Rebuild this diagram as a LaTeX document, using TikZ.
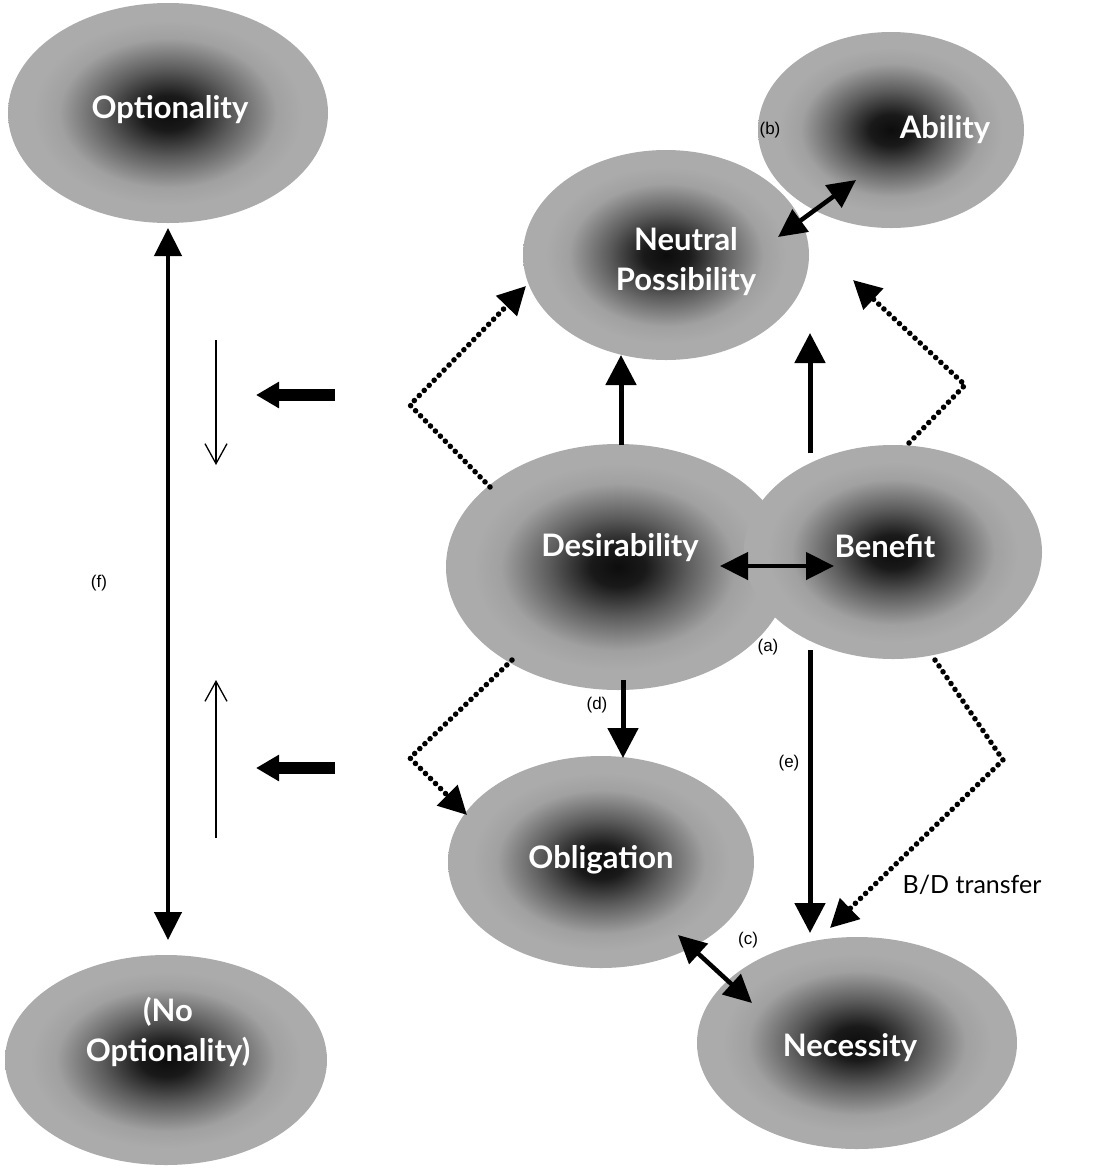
\documentclass[tikz,border=0pt]{standalone}
\usepackage{fontspec}
\setmainfont{Liberation Sans}
\newfontfamily\comic{Lato}
\usetikzlibrary{shapes.geometric,arrows.meta}
\pgfdeclareradialshading{blobshade}{\pgfpoint{0bp}{0bp}}{color(0bp)=(black!95); color(4bp)=(black!90); color(10bp)=(black!64); color(17bp)=(black!37); color(21bp)=(black!33); color(50bp)=(black!33)}
\tikzset{
 blob/.style={ellipse, draw=none, inner sep=0pt, shading=blobshade},
 lbl/.style={text=white, font=\comic\bfseries\fontsize{31}{40}\selectfont, align=center, inner sep=0pt},
 tag/.style={font=\fontsize{17}{20}\selectfont, inner sep=0pt},
 bdtag/.style={font=\comic\fontsize{25}{28}\selectfont, inner sep=0pt},
 solidarr/.style={line width=5pt, -{Triangle[width=30pt,length=30pt]}},
 dblarr/.style={line width=4.5pt, {Triangle[width=27pt,length=28pt]}-{Triangle[width=27pt,length=28pt]}},
 dotarr/.style={line width=5.5pt, line cap=round, dash pattern=on 0.1pt off 7pt, -{Triangle[width=28pt,length=28pt]}},
 thinarr/.style={line width=1.3pt, -{Straight Barb[width=22pt,length=20pt]}},
 fatarr/.style={line width=12pt, -{Triangle[width=25pt,length=23pt]}},
}
\begin{document}
\begin{tikzpicture}[x=1pt,y=-1pt]
\useasboundingbox[fill=white] (0,0) rectangle (1100,1171);
% ellipses
\node[blob, minimum width=320pt, minimum height=220pt] (opt) at (168,113) {};
\node[blob, minimum width=322pt, minimum height=210pt] (noopt) at (166,1060) {};
\node[blob, minimum width=286pt, minimum height=210pt] (np) at (666,255) {};
\node[blob, minimum width=266pt, minimum height=196pt] (abil) at (891,130) {};
\node[blob, minimum width=344pt, minimum height=246pt] (des) at (618,567) {};
\node[blob, minimum width=298pt, minimum height=214pt] (ben) at (893,552) {};
\node[blob, minimum width=306pt, minimum height=212pt] (obl) at (601,862) {};
\node[blob, minimum width=320pt, minimum height=212pt] (nec) at (857,1043) {};
% texts
\node[lbl] (optt) at (170,110) {Optionality};
\node[lbl] (noptt) at (168,1032) {(No\\Optionality)};
\node[lbl] (npt) at (686,262) {Neutral\\Possibility};
\node[lbl] (abilt) at (945,130) {Ability};
\node[lbl] (dest) at (620,548) {Desirability};
\node[lbl] (bent) at (885,546) {Benefit};
\node[lbl] (oblt) at (601,860) {Obligation};
\node[lbl] (nect) at (850,1048) {Necessity};
% small labels
\node[tag] (la) at (768,647) {(a)};
\node[tag] (lb) at (770,130) {(b)};
\node[tag] (lc) at (748,940) {(c)};
\node[tag] (ld) at (597,705) {(d)};
\node[tag] (le) at (789,763) {(e)};
\node[tag] (lf) at (99,583) {(f)};
\node[bdtag] (lbd) at (972,885) {B/D transfer};
% connector end points
\coordinate (fTop) at (168,228);
\coordinate (fBot) at (168,940);
\coordinate (t1a) at (216,340);
\coordinate (t1b) at (216,465);
\coordinate (t2a) at (216,838);
\coordinate (t2b) at (216,680);
\coordinate (k1a) at (335,395);
\coordinate (k1b) at (256,395);
\coordinate (k2a) at (335,768);
\coordinate (k2b) at (256,768);
\coordinate (dnpS) at (621,445);
\coordinate (dnpE) at (621,355);
\coordinate (bnpS) at (810,453);
\coordinate (bnpE) at (810,333);
\coordinate (dobS) at (623,680);
\coordinate (dobE) at (623,758);
\coordinate (bneS) at (810,650);
\coordinate (bneE) at (810,933);
\coordinate (aL) at (720,566);
\coordinate (aR) at (834,566);
\coordinate (bL) at (778,237);
\coordinate (bR) at (856,180);
\coordinate (cL) at (678,935);
\coordinate (cR) at (752,1003);
\coordinate (ulS) at (490,487);
\coordinate (ulC) at (410,405);
\coordinate (ulE) at (526,286);
\coordinate (urS) at (909,443);
\coordinate (urC) at (965,385);
\coordinate (urE) at (853,280);
\coordinate (llS) at (512,660);
\coordinate (llC) at (410,758);
\coordinate (llE) at (467,815);
\coordinate (lrS) at (935,660);
\coordinate (lrC) at (1003,760);
\coordinate (lrE) at (830,928);
% connectors
\draw[dblarr] (fBot) -- (fTop);
\draw[thinarr] (t1a) -- (t1b);
\draw[thinarr] (t2a) -- (t2b);
\draw[fatarr] (k1a) -- (k1b);
\draw[fatarr] (k2a) -- (k2b);
\draw[solidarr] (dnpS) -- (dnpE);
\draw[solidarr] (bnpS) -- (bnpE);
\draw[solidarr] (dobS) -- (dobE);
\draw[solidarr] (bneS) -- (bneE);
\draw[dblarr] (aL) -- (aR);
\draw[dblarr] (bL) -- (bR);
\draw[dblarr] (cL) -- (cR);
\draw[dotarr] (ulS) -- (ulC) -- (ulE);
\draw[dotarr] (urS) -- (urC) -- (urE);
\draw[dotarr] (llS) -- (llC) -- (llE);
\draw[dotarr] (lrS) -- (lrC) -- (lrE);
\end{tikzpicture}
\end{document}
